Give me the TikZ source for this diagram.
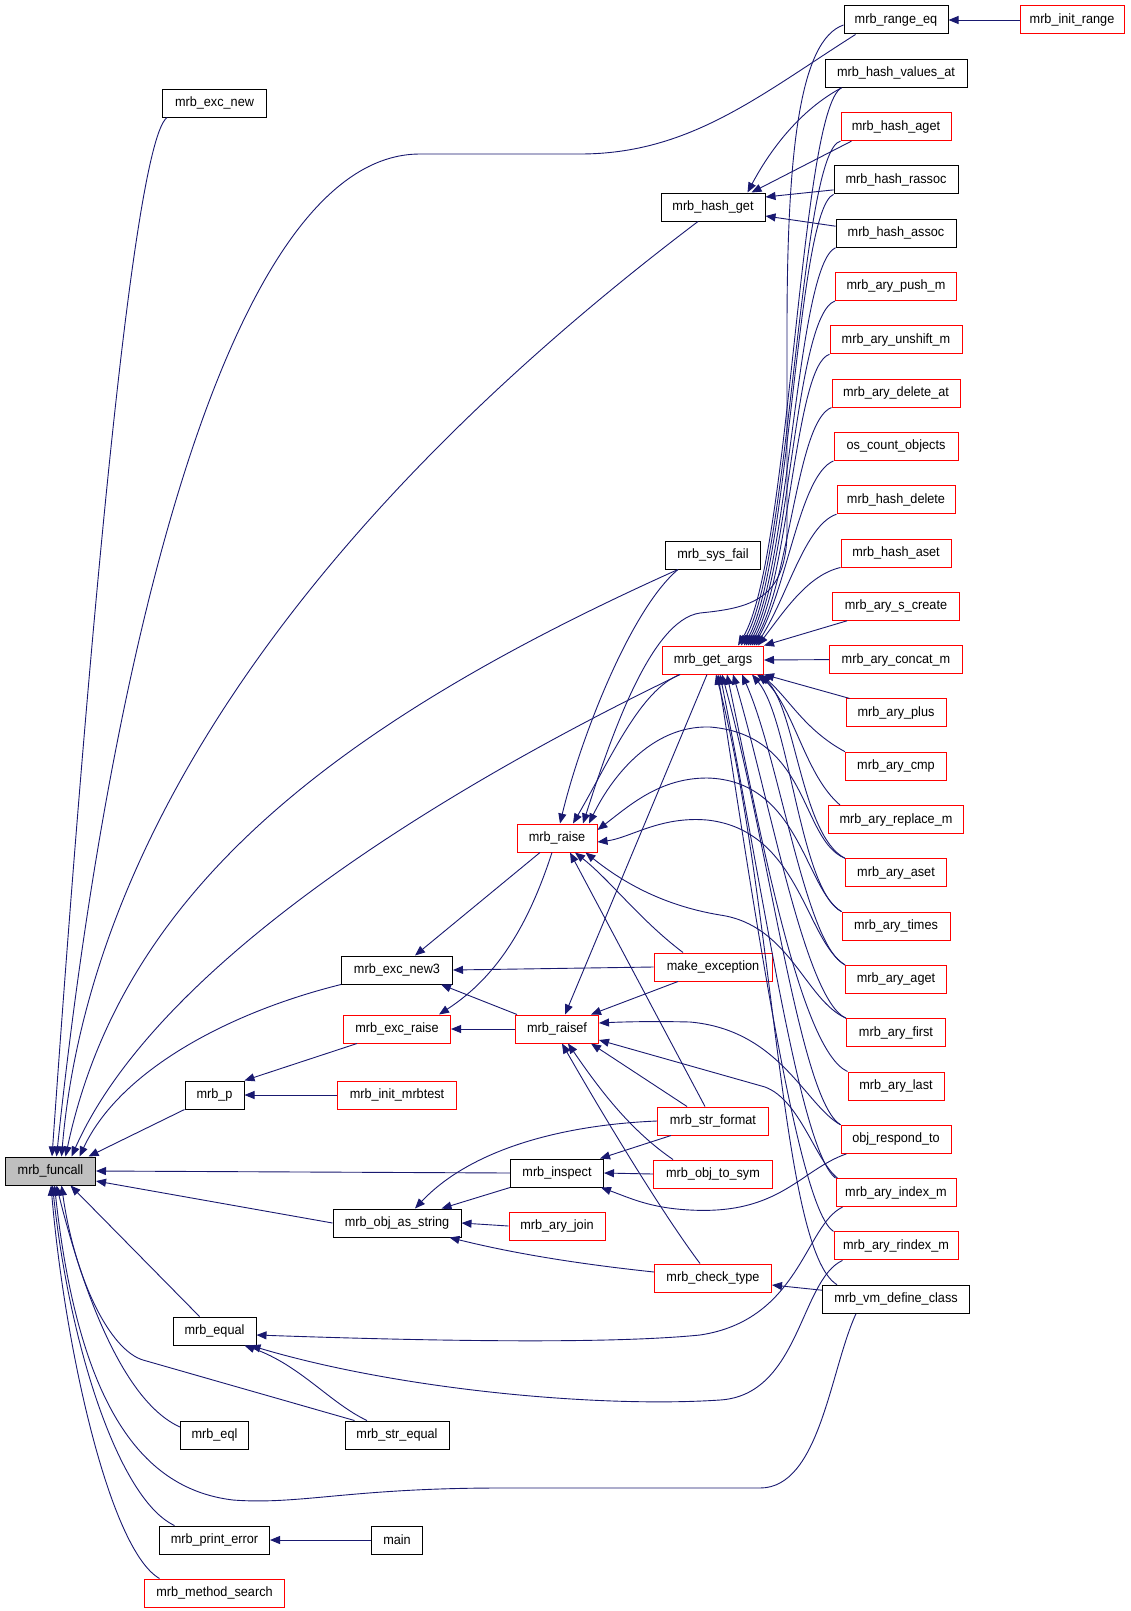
\documentclass[tikz,border=0pt]{standalone}
\usepackage{fontspec}
\setmainfont{Liberation Sans}
\newfontfamily\nodefont[FakeStretch=0.94]{Liberation Sans}
\usetikzlibrary{arrows.meta}
\definecolor{edgeblue}{HTML}{191970}
\definecolor{boxred}{HTML}{FF0000}
\definecolor{fgray}{HTML}{BFBFBF}
\tikzset{
 bx/.style={draw, line width=1pt, minimum height=28pt, inner sep=0pt, font=\nodefont\fontsize{13.5}{15}\selectfont, anchor=center},
 blk/.style={bx, draw=black},
 redb/.style={bx, draw=boxred},
 conn/.style={draw=edgeblue, line width=0.9pt, -{Triangle[length=10pt,width=8pt]}},
}
\begin{document}
\begin{tikzpicture}[x=1pt,y=-1pt]
\fill[white] (0,0) rectangle (1131,1611);
\useasboundingbox (0,0) rectangle (1131,1611);
% right column
\node[blk, minimum width=104pt] (range_eq) at (896,20.0) {mrb\_range\_eq};
\node[redb, minimum width=104pt] (init_range) at (1072,20.0) {mrb\_init\_range};
\node[blk, minimum width=142pt] (values_at) at (896,73.3) {mrb\_hash\_values\_at};
\node[redb, minimum width=110pt] (hash_aget) at (896,126.6) {mrb\_hash\_aget};
\node[blk, minimum width=124pt] (rassoc) at (896,179.9) {mrb\_hash\_rassoc};
\node[blk, minimum width=120pt] (assoc) at (896,233.2) {mrb\_hash\_assoc};
\node[redb, minimum width=121pt] (push_m) at (896,286.5) {mrb\_ary\_push\_m};
\node[redb, minimum width=132pt] (unshift_m) at (896,339.8) {mrb\_ary\_unshift\_m};
\node[redb, minimum width=128pt] (delete_at) at (896,393.1) {mrb\_ary\_delete\_at};
\node[redb, minimum width=124pt] (os_count) at (896,446.4) {os\_count\_objects};
\node[redb, minimum width=118pt] (hash_delete) at (896,499.7) {mrb\_hash\_delete};
\node[redb, minimum width=110pt] (hash_aset) at (896,553.0) {mrb\_hash\_aset};
\node[redb, minimum width=127pt] (s_create) at (896,606.3) {mrb\_ary\_s\_create};
\node[redb, minimum width=133pt] (concat_m) at (896,659.6) {mrb\_ary\_concat\_m};
\node[redb, minimum width=100pt] (plus) at (896,712.9) {mrb\_ary\_plus};
\node[redb, minimum width=101pt] (cmp) at (896,766.2) {mrb\_ary\_cmp};
\node[redb, minimum width=135pt] (replace_m) at (896,819.5) {mrb\_ary\_replace\_m};
\node[redb, minimum width=101pt] (aset) at (896,872.8) {mrb\_ary\_aset};
\node[redb, minimum width=108pt] (times) at (896,926.1) {mrb\_ary\_times};
\node[redb, minimum width=101pt] (aget) at (896,979.4) {mrb\_ary\_aget};
\node[redb, minimum width=99pt] (first) at (896,1032.7) {mrb\_ary\_first};
\node[redb, minimum width=96pt] (last) at (896,1086.0) {mrb\_ary\_last};
\node[redb, minimum width=110pt] (respond) at (896,1139.3) {obj\_respond\_to};
\node[redb, minimum width=120pt] (index_m) at (896,1192.6) {mrb\_ary\_index\_m};
\node[redb, minimum width=124pt] (rindex_m) at (896,1245.9) {mrb\_ary\_rindex\_m};
\node[blk, minimum width=147pt] (vmdef) at (896,1299.2) {mrb\_vm\_define\_class};
% column E
\node[blk, minimum width=104pt] (hash_get) at (713,207) {mrb\_hash\_get};
\node[blk, minimum width=95pt] (sys_fail) at (713,555) {mrb\_sys\_fail};
\node[redb, minimum width=101pt] (get_args) at (713,660) {mrb\_get\_args};
\node[redb, minimum width=118pt] (make_exc) at (713,967) {make\_exception};
\node[redb, minimum width=111pt] (str_format) at (713,1121) {mrb\_str\_format};
\node[redb, minimum width=119pt] (obj_to_sym) at (713,1174) {mrb\_obj\_to\_sym};
\node[redb, minimum width=117pt] (check_type) at (713,1278) {mrb\_check\_type};
% column D
\node[redb, minimum width=80pt] (raise) at (557,838) {mrb\_raise};
\node[redb, minimum width=83pt] (raisef) at (557,1029) {mrb\_raisef};
\node[blk, minimum width=93pt] (inspect) at (557,1173) {mrb\_inspect};
\node[redb, minimum width=96pt] (ary_join) at (557,1226) {mrb\_ary\_join};
% column C
\node[blk, minimum width=111pt] (exc_new3) at (397,970) {mrb\_exc\_new3};
\node[redb, minimum width=107pt] (exc_raise) at (397,1029) {mrb\_exc\_raise};
\node[redb, minimum width=119pt] (init_mrbtest) at (397,1095) {mrb\_init\_mrbtest};
\node[blk, minimum width=128pt] (obj_as_string) at (397,1223) {mrb\_obj\_as\_string};
\node[blk, minimum width=104pt] (str_equal) at (397,1435) {mrb\_str\_equal};
\node[blk, minimum width=51pt] (main) at (397,1540) {main};
% column B
\node[blk, minimum width=104pt] (exc_new) at (214.5,103) {mrb\_exc\_new};
\node[blk, minimum width=59pt] (p) at (214.5,1095) {mrb\_p};
\node[blk, minimum width=83pt] (equal) at (214.5,1331) {mrb\_equal};
\node[blk, minimum width=68pt] (eql) at (214.5,1435) {mrb\_eql};
\node[blk, minimum width=110pt] (print_error) at (214.5,1540) {mrb\_print\_error};
\node[redb, minimum width=140pt] (method_search) at (214.5,1593) {mrb\_method\_search};
% funcall
\node[blk, fill=fgray, minimum width=90pt] (funcall) at (50.5,1171) {mrb\_funcall};

% ---- edges into mrb_funcall
\draw[conn] ([xshift=5]exc_new.south west) .. controls (125,150) and (70,900) .. ([xshift=1.5]funcall.north);
\draw[conn] ([xshift=12]range_eq.south west) .. controls (760,95) and (690,154) .. (580,154) -- (420,154) .. controls (230,154) and (110,650) .. ([xshift=6]funcall.north);
\draw[conn] ([xshift=-15]hash_get.south) .. controls (330,500) and (90,820) .. ([xshift=11]funcall.north);
\draw[conn] ([xshift=-35]sys_fail.south) .. controls (320,730) and (120,900) .. ([xshift=15]funcall.north);
\draw[conn] ([xshift=-33]get_args.south) .. controls (400,810) and (150,980) .. ([xshift=21]funcall.north);
\draw[conn] (exc_new3.south west) .. controls (230,1012) and (120,1070) .. ([xshift=29]funcall.north);
\draw[conn] (p.south west) -- ([xshift=38]funcall.north);
\draw[conn] (inspect.west) -- (funcall.east);
\draw[conn] (obj_as_string.west) -- ([yshift=-10]funcall.east);
\draw[conn] ([xshift=-15]equal.north) -- ([xshift=20]funcall.south);
\draw[conn] ([xshift=10]str_equal.north west) -- (143,1360) .. controls (110,1350) and (75,1280) .. ([xshift=11]funcall.south);
\draw[conn] ([yshift=8]eql.west) .. controls (120,1400) and (80,1280) .. ([xshift=6]funcall.south);
\draw[conn] ([xshift=-40]vmdef.south) .. controls (830,1370) and (820,1488) .. (760,1488) -- (500,1488) .. controls (350,1488) and (300,1505) .. (233,1500) .. controls (150,1490) and (80,1420) .. ([xshift=4]funcall.south);
\draw[conn] ([xshift=-40]print_error.north) .. controls (120,1500) and (70,1350) .. ([xshift=2]funcall.south);
\draw[conn] ([xshift=-55]method_search.north) .. controls (110,1550) and (65,1350) .. ([xshift=0.5]funcall.south);

% ---- right column top
\draw[conn] (init_range.west) -- (range_eq.east);
\draw[conn] ([xshift=17]values_at.south west) .. controls (800,110) and (770,150) .. ([xshift=-18]hash_get.north east);
\draw[conn] ([xshift=11]hash_aget.south west) -- ([xshift=-14]hash_get.north east);
\draw[conn] ([yshift=-10]rassoc.west) -- ([yshift=10]hash_get.east);
\draw[conn] ([yshift=7]assoc.west) -- ([yshift=-9]hash_get.east);

% ---- into mrb_get_args from above
\draw[conn] ([xshift=17]values_at.south west) .. controls (800,110) and (790,560) .. ([xshift=25]get_args.north);
\draw[conn] (hash_aget.south west) .. controls (800,150) and (790,560) .. ([xshift=28]get_args.north);
\draw[conn] (rassoc.south west) .. controls (797,210) and (790,560) .. ([xshift=31]get_args.north);
\draw[conn] (assoc.south west) .. controls (797,265) and (790,565) .. ([xshift=33]get_args.north);
\draw[conn] (push_m.south west) .. controls (795,315) and (790,570) .. ([xshift=35]get_args.north);
\draw[conn] (unshift_m.south west) .. controls (795,365) and (790,575) .. ([xshift=37]get_args.north);
\draw[conn] (delete_at.south west) .. controls (797,420) and (790,580) .. ([xshift=39]get_args.north);
\draw[conn] (os_count.south west) .. controls (800,475) and (788,585) .. ([xshift=41]get_args.north);
\draw[conn] (hash_delete.south west) .. controls (805,525) and (788,595) .. ([xshift=43]get_args.north);
\draw[conn] (hash_aset.south west) .. controls (808,575) and (785,610) .. ([xshift=45]get_args.north);
\draw[conn] ([xshift=15]s_create.south west) -- (get_args.north east);
\draw[conn] (concat_m.west) -- (get_args.east);
\draw[conn] ([xshift=4]plus.north west) -- (get_args.south east);
% ---- into mrb_get_args from below
\draw[conn] (cmp.north west) .. controls (805,730) and (790,700) .. ([xshift=48]get_args.south);
\draw[conn] ([xshift=12]replace_m.north west) .. controls (805,775) and (795,710) .. ([xshift=46]get_args.south);
\draw[conn] (aset.north west) .. controls (800,835) and (795,700) .. ([xshift=44]get_args.south);
\draw[conn] (times.north west) .. controls (800,890) and (790,720) .. ([xshift=39]get_args.south);
\draw[conn] (aget.north west) .. controls (805,945) and (780,760) .. ([xshift=29]get_args.south);
\draw[conn] (first.north west) .. controls (805,1000) and (770,800) .. ([xshift=20]get_args.south);
\draw[conn] (last.north west) .. controls (800,1050) and (760,830) .. ([xshift=14]get_args.south);
\draw[conn] (respond.north west) .. controls (800,1100) and (770,850) .. ([xshift=9]get_args.south);
\draw[conn] (index_m.north west) .. controls (800,1150) and (765,900) .. ([xshift=7]get_args.south);
\draw[conn] (rindex_m.north west) .. controls (800,1210) and (760,950) .. ([xshift=5]get_args.south);
\draw[conn] ([xshift=15]vmdef.north west) .. controls (780,1250) and (775,900) .. ([xshift=3]get_args.south);

% ---- into mrb_raise
\draw[conn] ([xshift=-35]sys_fail.south) .. controls (630,610) and (580,740) .. ([xshift=3]raise.north);
\draw[conn] ([xshift=-33]get_args.south) .. controls (640,690) and (610,760) .. ([xshift=16]raise.north);
\draw[conn] ([yshift=-5]range_eq.west) .. controls (800,40) and (787,150) .. (787,330) -- (787,530) .. controls (787,600) and (750,608) .. (700,613) .. controls (650,620) and (610,740) .. ([xshift=26]raise.north);
\draw[conn] (aset.north west) .. controls (800,840) and (810,735) .. (710,727) .. controls (650,725) and (610,780) .. ([xshift=32]raise.north);
\draw[conn] (times.north west) .. controls (805,890) and (800,780) .. (707,778) .. controls (660,778) and (630,805) .. ([yshift=8]raise.east);
\draw[conn] (aget.north west) .. controls (805,940) and (800,830) .. (707,820) .. controls (660,816) and (630,838) .. ([yshift=-4]raise.east);
\draw[conn] (first.north west) .. controls (805,1000) and (790,925) .. (720,915) .. controls (660,905) and (620,880) .. ([xshift=-12]raise.south east);
\draw[conn] ([xshift=-30]make_exc.north) .. controls (640,920) and (610,880) .. ([xshift=18]raise.south);
\draw[conn] ([xshift=-8]str_format.north) -- ([xshift=13]raise.south);
\draw[conn] ([xshift=-17]raise.south) -- ([xshift=18]exc_new3.north);
\draw[conn] ([xshift=-5]raise.south) .. controls (530,920) and (500,975) .. ([xshift=-12]exc_raise.north east);

% ---- into mrb_raisef
\draw[conn] ([xshift=-6]get_args.south) -- ([xshift=8]raisef.north);
\draw[conn] ([xshift=-35]make_exc.south) -- ([xshift=-8]raisef.north east);
\draw[conn] (respond.north west) .. controls (805,1105) and (780,1030) .. (690,1022) .. controls (650,1021) and (620,1022) .. ([yshift=6]raisef.east);
\draw[conn] ([xshift=2]index_m.north west) .. controls (815,1160) and (800,1100) .. (765,1087) -- ([yshift=-11]raisef.east);
\draw[conn] ([xshift=-26]str_format.north) -- ([xshift=-8]raisef.south east);
\draw[conn] ([xshift=-40]obj_to_sym.north) .. controls (630,1130) and (600,1090) .. ([xshift=11]raisef.south);
\draw[conn] ([xshift=-13]check_type.north) .. controls (660,1210) and (600,1110) .. ([xshift=5]raisef.south);
\draw[conn] ([xshift=2]raisef.north west) -- ([xshift=-12]exc_new3.south east);
\draw[conn] (raisef.west) -- (exc_raise.east);
\draw[conn] (make_exc.west) -- (exc_new3.east);
\draw[conn] ([xshift=14]exc_raise.south west) -- (p.north east);
\draw[conn] (init_mrbtest.west) -- (p.east);

% ---- inspect / obj_as_string
\draw[conn] ([xshift=-42]str_format.south) -- ([xshift=-4]inspect.north east);
\draw[conn] (obj_to_sym.west) -- (inspect.east);
\draw[conn] ([xshift=6]respond.south west) .. controls (800,1170) and (780,1215) .. (690,1210) .. controls (650,1208) and (630,1198) .. ([xshift=-3]inspect.south east);
\draw[conn] (inspect.south west) -- ([xshift=-20]obj_as_string.north east);
\draw[conn] (str_format.west) .. controls (560,1125) and (470,1150) .. ([xshift=18]obj_as_string.north);
\draw[conn] (ary_join.west) -- (obj_as_string.east);
\draw[conn] ([yshift=6]check_type.west) .. controls (560,1262) and (500,1250) .. ([xshift=-12]obj_as_string.south east);
\draw[conn] ([yshift=9]vmdef.west) -- ([yshift=-7]check_type.east);

% ---- equal
\draw[conn] ([xshift=7]index_m.south west) .. controls (805,1225) and (800,1320) .. (700,1335) .. controls (600,1345) and (400,1340) .. ([yshift=-4]equal.east);
\draw[conn] ([xshift=9]rindex_m.south west) .. controls (800,1280) and (800,1395) .. (720,1400) .. controls (600,1408) and (400,1390) .. ([xshift=-6]equal.south east);
\draw[conn] ([xshift=-30]str_equal.north) .. controls (330,1403) and (300,1365) .. ([xshift=-12]equal.south east);
\draw[conn] (main.west) -- (print_error.east);
\end{tikzpicture}
\end{document}
